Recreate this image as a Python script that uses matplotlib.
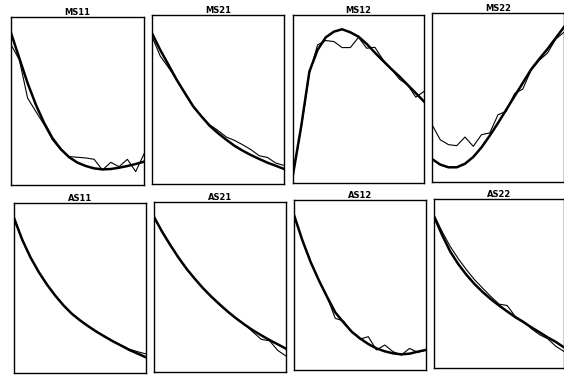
import matplotlib.pyplot as plt

# 17 sample positions across each panel
x = [0, 1, 2, 3, 4, 5, 6, 7, 8, 9, 10, 11, 12, 13, 14, 15, 16]

titles = ['MS11', 'MS21', 'MS12', 'MS22', 'AS11', 'AS21', 'AS12', 'AS22']

# fitted (thick) and measured (thin) curves, normalised 0..1 per panel
ms11_fit = [0.905, 0.755, 0.606, 0.477, 0.368, 0.278, 0.213, 0.165, 0.133, 0.113,
            0.099, 0.093, 0.095, 0.103, 0.113, 0.125, 0.139]
ms11_raw = [0.835, 0.746, 0.517, 0.437, 0.358, 0.268, 0.209, 0.169, 0.165, 0.161,
            0.153, 0.089, 0.135, 0.109, 0.153, 0.080, 0.185]

ms21_fit = [0.892, 0.793, 0.705, 0.616, 0.537, 0.459, 0.400, 0.344, 0.301, 0.262,
            0.226, 0.197, 0.171, 0.148, 0.126, 0.108, 0.089]
ms21_raw = [0.872, 0.757, 0.689, 0.616, 0.533, 0.455, 0.400, 0.350, 0.317, 0.278,
            0.258, 0.232, 0.203, 0.167, 0.157, 0.124, 0.110]

ms12_fit = [0.050, 0.337, 0.663, 0.792, 0.867, 0.901, 0.915, 0.897, 0.871, 0.828,
            0.776, 0.727, 0.679, 0.634, 0.584, 0.535, 0.485]
ms12_raw = [0.050, 0.327, 0.653, 0.822, 0.848, 0.842, 0.806, 0.806, 0.867, 0.802,
            0.808, 0.733, 0.679, 0.618, 0.584, 0.511, 0.545]

ms22_fit = [0.136, 0.103, 0.087, 0.087, 0.108, 0.148, 0.205, 0.274, 0.349, 0.428,
            0.507, 0.586, 0.665, 0.728, 0.787, 0.852, 0.917]
ms22_raw = [0.339, 0.250, 0.221, 0.215, 0.266, 0.211, 0.280, 0.290, 0.398, 0.418,
            0.523, 0.550, 0.661, 0.720, 0.763, 0.846, 0.886]

as11_fit = [0.912, 0.784, 0.680, 0.594, 0.520, 0.455, 0.398, 0.349, 0.310, 0.275,
            0.243, 0.214, 0.186, 0.161, 0.135, 0.114, 0.092]
as11_raw = [0.905, 0.780, 0.678, 0.592, 0.521, 0.457, 0.396, 0.350, 0.308, 0.277,
            0.241, 0.216, 0.188, 0.163, 0.140, 0.125, 0.112]

as21_fit = [0.912, 0.824, 0.745, 0.671, 0.604, 0.545, 0.490, 0.441, 0.396, 0.353,
            0.314, 0.278, 0.245, 0.216, 0.188, 0.163, 0.137]
as21_raw = [0.912, 0.820, 0.742, 0.668, 0.600, 0.548, 0.488, 0.438, 0.392, 0.350,
            0.312, 0.280, 0.235, 0.192, 0.184, 0.127, 0.094]

as12_fit = [0.912, 0.765, 0.637, 0.529, 0.431, 0.339, 0.280, 0.225, 0.186, 0.153,
            0.127, 0.110, 0.098, 0.092, 0.096, 0.108, 0.118]
as12_raw = [0.912, 0.765, 0.637, 0.529, 0.431, 0.304, 0.288, 0.225, 0.182, 0.196,
            0.118, 0.147, 0.108, 0.088, 0.127, 0.104, 0.118]

as22_fit = [0.896, 0.787, 0.689, 0.614, 0.551, 0.496, 0.449, 0.407, 0.370, 0.335,
            0.301, 0.272, 0.240, 0.211, 0.181, 0.154, 0.122]
as22_raw = [0.906, 0.807, 0.719, 0.646, 0.581, 0.522, 0.472, 0.423, 0.378, 0.370,
            0.305, 0.276, 0.232, 0.197, 0.173, 0.128, 0.098]

fits = [ms11_fit, ms21_fit, ms12_fit, ms22_fit, as11_fit, as21_fit, as12_fit, as22_fit]
raws = [ms11_raw, ms21_raw, ms12_raw, ms22_raw, as11_raw, as21_raw, as12_raw, as22_raw]

W, H = 564, 377
# panel boxes in pixels: left, top, right, bottom
boxes = [(11, 17, 144, 185), (152, 15, 284, 184), (293, 15, 424, 183), (432, 13, 564, 182),
         (14, 203, 146, 373), (154, 202, 286, 372), (294, 200, 426, 370), (434, 199, 564, 368)]

fig = plt.figure(figsize=(W / 100, H / 100), dpi=100)

for name, fit, raw, (l, t, r, b) in zip(titles, fits, raws, boxes):
    ax = fig.add_axes([l / W, 1 - b / H, (r - l) / W, (b - t) / H])
    ax.plot(x, raw, color='black', lw=0.8)
    ax.plot(x, fit, color='black', lw=1.8, solid_joinstyle='round')
    ax.set_xlim(0, 16)
    ax.set_ylim(0, 1)
    ax.set_xticks([])
    ax.set_yticks([])
    for s in ax.spines.values():
        s.set_linewidth(1.0)
    ax.set_title(name, fontsize=6, fontweight='bold', pad=1.5)

fig.savefig('out.png', dpi=100)
